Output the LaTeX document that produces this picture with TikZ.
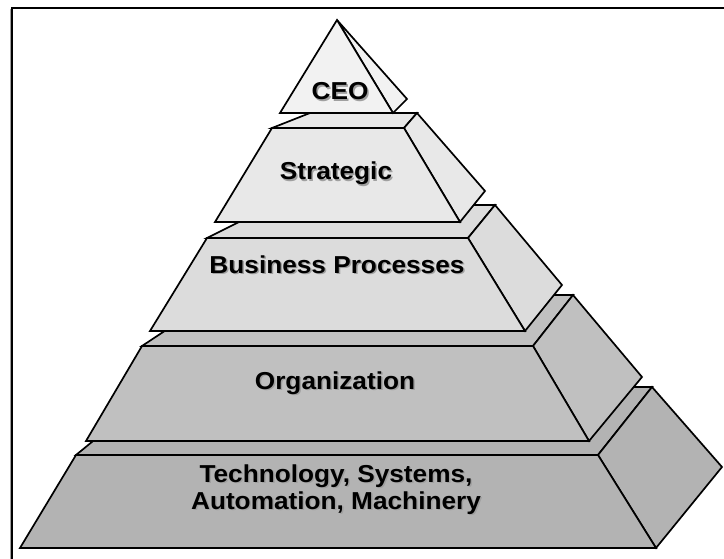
\documentclass[tikz,border=0pt]{standalone}
\usepackage{fontspec}
\setmainfont{Liberation Sans}

\definecolor{ceofill}{HTML}{F2F2F2}
\definecolor{stratfill}{HTML}{E8E8E8}
\definecolor{busfill}{HTML}{DCDCDC}
\definecolor{orgfill}{HTML}{C0C0C0}
\definecolor{techfill}{HTML}{B3B3B3}
\definecolor{shadowgray}{HTML}{A0A0A0}

% text with a soft drop shadow
\newcommand{\shtxt}[1]{\makebox[0pt][l]{\hspace{1.4pt}\raisebox{-1.4pt}{\textcolor{shadowgray}{#1}}}#1}

\begin{document}
\begin{tikzpicture}[x=1pt, y=-1pt,
        face/.style={draw, line width=1.7pt, line join=miter},
        lbl/.style={font=\bfseries\fontsize{24.5}{27}\selectfont, align=center, anchor=base, transform shape, xscale=1.07, inner sep=0pt}
    ]
    \useasboundingbox (0,0) rectangle (724,559);
    % Frame
    \draw[shadowgray, line width=1pt] (10.8,570) -- (10.8,9);
    \draw[line width=1.5pt] (12,570) |- (740,8);

    % Technology level
    \filldraw[face, fill=techfill] (76,455) -- (159,387) -- (652,387) -- (598,455) -- cycle;
    \filldraw[face, fill=techfill] (598,455) -- (652,387) -- (722,467) -- (656,548) -- cycle;
    \filldraw[face, fill=techfill] (76,455) -- (598,455) -- (656,548) -- (20,548) -- cycle;

    % Organization level
    \filldraw[face, fill=orgfill] (142,346) -- (219,295) -- (573,295) -- (533,346) -- cycle;
    \filldraw[face, fill=orgfill] (533,346) -- (573,295) -- (642,377) -- (589,441) -- cycle;
    \filldraw[face, fill=orgfill] (142,346) -- (533,346) -- (589,441) -- (86,441) -- cycle;

    % Business processes level
    \filldraw[face, fill=busfill] (207,238) -- (273,205) -- (495,205) -- (468,238) -- cycle;
    \filldraw[face, fill=busfill] (468,238) -- (495,205) -- (562,285) -- (525,331) -- cycle;
    \filldraw[face, fill=busfill] (207,238) -- (468,238) -- (525,331) -- (150,331) -- cycle;

    % Strategic level
    \filldraw[face, fill=stratfill] (272,128) -- (310,113) -- (417,113) -- (404,128) -- cycle;
    \filldraw[face, fill=stratfill] (404,128) -- (417,113) -- (485,191) -- (460,222) -- cycle;
    \filldraw[face, fill=stratfill] (272,128) -- (404,128) -- (460,222) -- (215,222) -- cycle;

    % CEO tip
    \filldraw[face, fill=ceofill] (337,20) -- (407,99) -- (393,113) -- cycle;
    \filldraw[face, fill=ceofill] (337,20) -- (393,113) -- (280,113) -- cycle;

    % Labels
    \node[lbl] (ceo) at (340,100) {\shtxt{CEO}};
    \node[lbl] (strat) at (336,180) {\shtxt{Strategic}};
    \node[lbl] (bus) at (337,273) {\shtxt{Business Processes}};
    \node[lbl] (org) at (335,389) {\shtxt{Organization}};
    \node[lbl, anchor=center] (tech) at (336,490) {\shtxt{Technology, Systems,}\\\shtxt{Automation, Machinery}};
\end{tikzpicture}
\end{document}
